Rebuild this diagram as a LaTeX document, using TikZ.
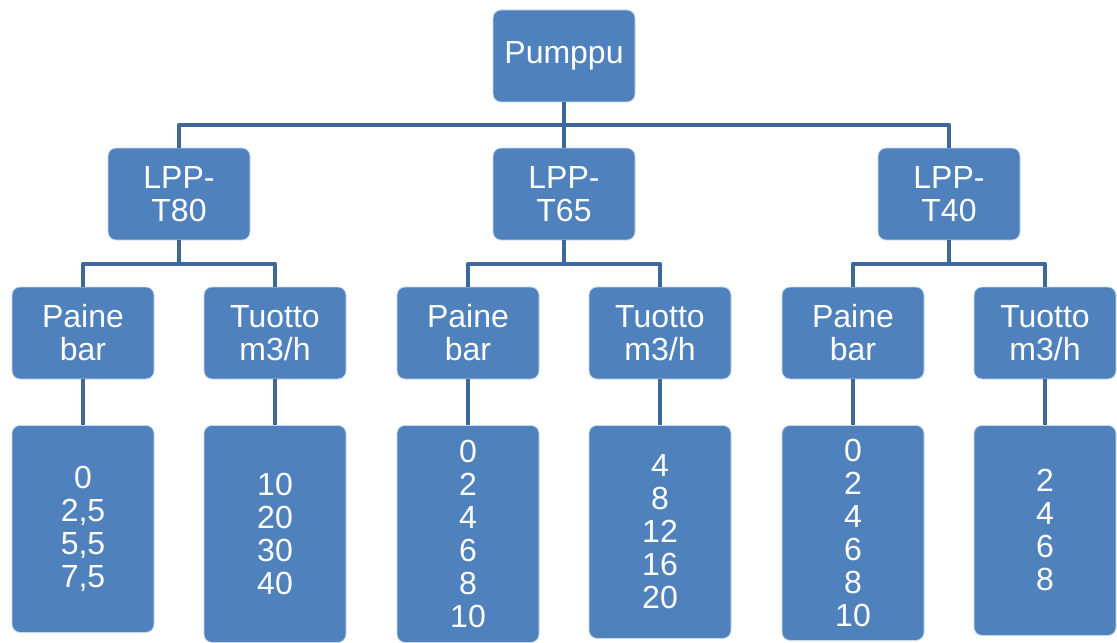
\documentclass[tikz,border=0pt]{standalone}
\usepackage{fontspec}
\setmainfont{Liberation Sans}
\definecolor{boxfill}{RGB}{79,129,189}
\definecolor{boxline}{RGB}{200,215,235}
\definecolor{conncol}{RGB}{62,103,155}
\begin{document}
\begin{tikzpicture}[x=0.5pt,y=-0.5pt,
  box/.style={draw=boxline, line width=0.4pt, fill=boxfill, rounded corners=4pt,
    text=white, align=center, minimum width=71pt, inner sep=0pt,
    font=\fontsize{16}{16.5}\selectfont},
  topbox/.style={box, minimum height=46pt},
  valbox/.style={box, anchor=north},
  conn/.style={draw=conncol, line width=2.3pt, line join=round}]
\useasboundingbox (0,0) rectangle (1117,642);
% level 0
\node[topbox] (P) at (564,56) {Pumppu};
% level 1
\node[topbox] (A) at (179,194) {LPP-\\T80};
\node[topbox] (B) at (564,194) {LPP-\\T65};
\node[topbox] (C) at (949,194) {LPP-\\T40};
% level 2
\node[topbox] (A1) at (83,333) {Paine\\bar};
\node[topbox] (A2) at (275,333) {Tuotto\\m3/h};
\node[topbox] (B1) at (468,333) {Paine\\bar};
\node[topbox] (B2) at (660,333) {Tuotto\\m3/h};
\node[topbox] (C1) at (853,333) {Paine\\bar};
\node[topbox] (C2) at (1045,333) {Tuotto\\m3/h};
% level 3
\node[valbox, minimum height=103.5pt] (A1v) at (83,425) {0\\2,5\\5,5\\7,5};
\node[valbox, minimum height=108.5pt] (A2v) at (275,425) {10\\20\\30\\40};
\node[valbox, minimum height=108.5pt] (B1v) at (468,425) {0\\2\\4\\6\\8\\10};
\node[valbox, minimum height=106.5pt] (B2v) at (660,425) {4\\8\\12\\16\\20};
\node[valbox, minimum height=107.5pt] (C1v) at (853,425) {0\\2\\4\\6\\8\\10};
\node[valbox, minimum height=105pt] (C2v) at (1045,425) {2\\4\\6\\8};
% bus coordinates
\coordinate (b0) at (0,125);
\coordinate (b1) at (0,264);
% connectors level 0 -> 1
\draw[conn] (P.south) -- (P.south |- b0);
\draw[conn] (A.north) -- (A.north |- b0) -- (C.north |- b0) -- (C.north);
\draw[conn] (B.north) -- (B.north |- b0);
% connectors level 1 -> 2
\foreach \p in {A,B,C} {
  \draw[conn] (\p.south) -- (\p.south |- b1);
  \draw[conn] (\p1.north) -- (\p1.north |- b1) -- (\p2.north |- b1) -- (\p2.north);
}
% connectors level 2 -> 3
\foreach \p in {A1,A2,B1,B2,C1,C2} {
  \draw[conn] (\p.south) -- (\p v.north);
}
\end{tikzpicture}
\end{document}
